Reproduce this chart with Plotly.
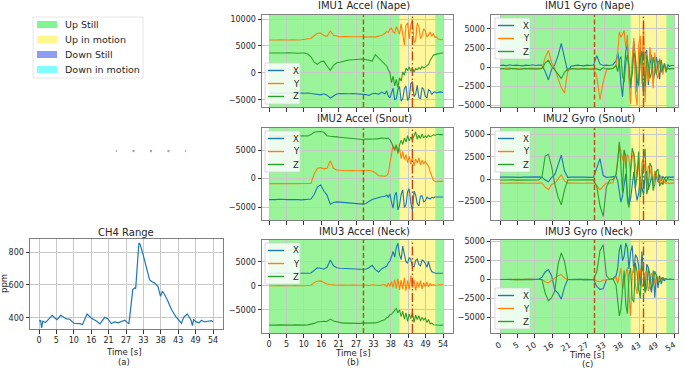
import plotly.graph_objects as go

W, H = 685, 371

# ---------------- data ----------------
CH4_T = [0, 0.5, 0.8, 1.2, 2.0, 3.0, 4.1, 5.0, 5.6, 6.7, 7.5, 8.5, 9.5, 10.2, 10.8, 12.6, 13.5, 14.9, 16.2, 17.9,
         18.9, 20.4, 21.4, 22.4, 23.5, 24.6, 25.6, 26.6, 27.9, 28.5, 29.1, 29.7, 30.0, 31.0, 31.4, 32.3, 33.3, 34.3,
         35.2, 35.9, 36.9, 37.7, 38.3, 39.0, 40.0, 41.1, 42.4, 43.7, 44.2, 44.9, 46.0, 46.8, 47.3, 47.6, 48.0, 48.8,
         49.7, 50.4, 51.4, 52.4, 53.5, 54.0]
CH4_PPM = [382, 384, 340, 380, 372, 395, 416, 398, 390, 416, 405, 394, 392, 380, 368, 366, 360, 424, 400, 380,
           364, 404, 394, 366, 376, 370, 376, 386, 364, 460, 572, 582, 578, 855, 845, 784, 703, 632,
           618, 612, 592, 531, 562, 541, 501, 451, 410, 380, 368, 404, 424, 400, 380, 354, 390,
           376, 370, 386, 376, 380, 384, 376]

T = [0, 1, 2, 3, 4, 5, 6, 7, 8, 9, 10, 11, 12, 13, 14, 15, 16, 17, 18, 19, 20, 21, 22, 23, 24, 25, 26, 27, 28, 29,
     30, 31, 32, 33, 34, 35,
     36, 36.5, 37, 37.5, 38, 38.5, 39, 39.5, 40, 40.5, 41, 41.5, 42, 42.5, 43, 43.5, 44, 44.5, 45, 45.5, 46, 46.5,
     47, 47.5, 48, 48.5, 49, 49.5, 50, 50.5, 51, 51.5, 52, 52.5, 53, 53.5, 54]

ACC1_X = [-3650, -3700, -3650, -3750, -3700, -3650, -3700, -3750, -3700, -3650, -3700, -3750, -3700, -3800, -3850,
          -3950, -4050, -3850, -4100, -4650, -4250, -3900, -3800, -3850, -3800, -3850, -3800, -3850, -3800, -3850,
          -4000, -4150, -3850, -3750, -3950, -3550] + \
         [-3900, -3300, -4200, -4600, -3500, -2800, -5000, -4700, -3100, -2500, -5200, -4800, -2900, -2400, -5100,
          -4600, -2000, -1600, -4400, -3900, -2300, -4500, -4800, -2700, -3000, -4300, -4600, -3100, -3300, -4000,
          -3600, -3500, -3700, -3600, -3500, -3550, -3600]
ACC1_Y = [6100, 6050, 6100, 6150, 6100, 6050, 6100, 6150, 6100, 6100, 6150, 6250, 6300, 6400, 6900, 7350, 7400,
          6950, 6800, 7800, 7000, 6800, 6700, 6750, 6700, 6650, 6700, 6700, 6750, 6700, 6650, 6700, 6700, 6650,
          6800, 7000] + \
         [7300, 7700, 7500, 8100, 8300, 7600, 7400, 8600, 7900, 7200, 9100, 6900, 5200, 8800, 9300, 6300, 8900,
          9900, 5600, 6000, 9200, 8600, 6400, 6900, 8200, 7800, 6700, 7000, 7600, 6800, 7300, 6600, 6700, 6300,
          6200, 6150, 6200]
ACC1_Z = [3700, 3750, 3700, 3700, 3650, 3700, 3750, 3700, 3700, 3650, 3700, 3700, 3500, 3000, 2000, 1600, 2100,
          2200, 1300, 500, 1400, 1900, 2000, 2200, 2300, 2400, 2500, 2500, 2550, 2600, 2500, 2300, 2200, 3400,
          2800, 2200] + \
         [1700, 1300, 600, 100, -1800, -600, -2400, -1200, -2700, -900, -1500, 200, -400, 900, 500, 1100, 300, 900,
          200, 800, 600, 1000, 700, 1200, 900, 1100, 1300, 1600, 2300, 2900, 3300, 3400, 3500, 3600, 3700, 3700,
          3700]

ACC2_X = [-3700, -3750, -3700, -3650, -3700, -3750, -3700, -3700, -3650, -3700, -3750, -3700, -3650, -3600, -2800,
          -1500, -1100, -2200, -2900, -4500, -4200, -4100, -4150, -4200, -4250, -4300, -4350, -4400, -4450, -4500,
          -4400, -4000, -3700, -3500, -3300, -3200] + \
         [-3100, -2900, -3300, -2700, -4200, -5200, -3000, -2400, -5500, -4700, -2800, -2000, -5100, -4600, -2300,
          -1800, -4300, -5700, -2200, -2900, -4400, -4800, -3100, -3000, -4100, -3900, -3300, -3400, -3600, -3300,
          -3400, -3250, -3250, -3200, -3250, -3200, -3250]
ACC2_Y = [-900, -880, -900, -850, -880, -900, -870, -880, -900, -860, -880, -900, -870, -850, 800, 1800, 1900, 1700,
          1800, 3100, 1800, 1500, 1400, 1400, 1350, 1400, 1400, 1350, 1400, 1400, 1350, 1400, 1300, 1000, 500, 400] + \
         [400, 500, 900, 2600, 4500, 5800, 5200, 6000, 4300, 5300, 3500, 4700, 3300, 4200, 2800, 3900, 2500, 3700,
          2200, 3400, 2700, 3600, 2400, 3200, 2600, 3000, 2500, 2200, 1200, 300, -300, -500, -600, -450, -550, -500,
          -500]
ACC2_Z = [7450, 7500, 7450, 7400, 7450, 7500, 7450, 7450, 7400, 7450, 7500, 7450, 7450, 7700, 8100, 8200, 8250,
          8100, 7500, 7400, 7300, 7300, 7250, 7200, 7150, 7100, 6950, 6900, 6900, 6850, 6900, 6900, 6850, 6950,
          7000, 7100] + \
         [7050, 7000, 7100, 6800, 6300, 5500, 4900, 5800, 4600, 5900, 6700, 6000, 7100, 6400, 7500, 6600, 7300,
          6800, 7700, 8200, 6900, 7600, 7000, 7800, 7100, 7500, 7200, 7600, 7300, 7500, 7650, 7600, 7700, 7750,
          7700, 7750, 7700]

ACC3_X = [2650, 2600, 2650, 2700, 2650, 2600, 2650, 2650, 2700, 2650, 2600, 2650, 2650, 2700, 3300, 3800, 3700,
          3500, 3900, 5400, 4200, 3800, 3700, 3700, 3650, 3600, 3600, 3550, 3500, 3450, 3500, 3800, 4300, 3400,
          2900, 3600] + \
         [3900, 4100, 4800, 5200, 6100, 7200, 6000, 8000, 8900, 6500, 5500, 8300, 6600, 5000, 4800, 5900, 5500,
          4100, 4000, 5300, 5600, 4500, 4200, 5400, 5200, 4700, 3900, 5100, 3700, 3000, 2800, 2650, 2600, 2650,
          2600, 2650, 2650]
ACC3_Y = [50, 0, 50, 100, 50, 0, 50, 50, 100, 50, 0, 50, 100, 150, 700, 1000, 1050, 700, 400, 300, 200, 150, 200,
          150, 100, 150, 200, 150, 100, 150, 200, 100, 250, 150, 100, 200] + \
         [300, -200, 600, -100, 900, -300, 1300, -500, 1500, -800, 1200, -600, 1700, -1000, 1100, -700, 2100, -400,
          1300, -900, 900, -300, 1100, -600, 700, -200, 800, -100, 500, 100, 300, 150, 250, 200, 250, 200, 250]
ACC3_Z = [-8150, -8200, -8150, -8100, -8150, -8200, -8150, -8150, -8100, -8150, -8200, -8150, -8100, -8000, -7800,
          -7500, -7400, -7350, -7400, -6900, -7300, -7500, -7700, -7750, -7750, -7800, -7750, -7750, -7800, -7750,
          -7750, -7700, -7750, -7700, -7500, -7300] + \
         [-7000, -6600, -6500, -6000, -5900, -5500, -5200, -4700, -5600, -5000, -6400, -5300, -6900, -5600, -7400,
          -5800, -6800, -5500, -7600, -6100, -7000, -6200, -7300, -6500, -7100, -6700, -7600, -7000, -7900, -7700,
          -8100, -8150, -8200, -8150, -8200, -8150, -8200]

GYR1_X = [200, 250, 150, 300, 200, 250, 200, 150, 250, 200, 300, 200, 250, 250, -600, -1700, -300, 300, 1500, 3100,
          1200, -600, 100, 200, 250, 200, 150, 250, 200, 250, 1500, 400, 200, 250, 200, 300] + \
         [800, 1900, 600, -2200, -3900, -800, 2100, 3000, -1200, -2800, 400, 3400, 1200, -3300, -1500, 2600, -600,
          -3800, 1800, 2200, -2400, 300, 1600, -1900, -700, 1300, 200, -1600, 900, -400, 500, -700, 300, 100, 200,
          150, 200]
GYR1_Y = [-200, -250, -200, -150, -250, -200, -300, -200, -250, -200, -150, -250, -200, -150, 1200, 2200, 600, -200,
          -1500, -2700, -3400, -500, -250, -250, -200, -250, -300, -250, -200, -300, -1200, -4300, -2000, -400, -250,
          -200] + \
         [300, 1800, 4600, 3900, 4300, 4800, 2500, 4200, -1500, -4900, 1200, 3800, -3400, -5000, 2900, 4100, -2200,
          6100, -4600, 1500, -1800, 2600, 700, -2800, 1900, -900, -1500, 1100, 300, -1000, 500, -600, -100, -300,
          -200, -250, -250]
GYR1_Z = [-250, -200, -300, -250, -200, -250, -300, -250, -200, -250, -250, -300, -250, -200, 500, 900, 100, -400,
          -900, -1500, -700, -250, -250, -200, -300, -250, -200, -250, -300, -250, -250, -400, -100, -250, -250,
          -200] + \
         [200, -600, 900, 1400, -1200, -2000, 600, 1600, 300, -2300, -900, 1900, 1100, -1700, -2400, 800, 2100, -600,
          -2600, 1500, 400, -1500, -700, 1300, 200, -1000, 600, 900, -700, -200, 400, -500, -100, -250, -200, -250,
          -200]

GYR2_X = [220, 250, 200, 230, 220, 250, 200, 220, 240, 210, 230, 220, 250, 220, -100, -300, 200, 500, 1500, 2700,
          900, 200, 220, 250, 200, 230, 220, 250, 200, 220, 1200, 2300, 400, 200, 220, 250] + \
         [300, -200, -1400, -2600, -1900, -400, 600, -1800, -2900, -2200, -500, 800, -1200, -2400, -1600, 300, -900,
          -1800, 500, 900, -1200, -600, 400, -700, 800, 200, -300, 500, -200, 300, 100, 250, 200, 250, 200, 250, 200]
GYR2_Y = [-450, -420, -470, -450, -430, -460, -450, -440, -470, -450, -430, -460, -450, -450, -900, -1200, -600,
          -450, 0, 500, -200, -450, -440, -460, -450, -430, -460, -450, -440, -460, -700, -1200, -800, -450, -450,
          -400] + \
         [600, 2400, 3800, 3100, 2100, 3300, 1200, 2800, 2300, 600, 2500, 3000, 1400, 200, 2200, -1200, 1800, 2400,
          900, -400, 1500, 1100, 300, -800, 900, 600, -200, -500, 300, -600, -300, -500, -400, -500, -450, -450,
          -450]
GYR2_Z = [-100, -80, -120, -100, -90, -110, -100, -80, -120, -100, -90, -110, -100, 200, 2600, 2800, 1400, -600,
          -2000, -2900, -1200, -100, -90, -110, -100, -80, -120, -100, -90, -110, -800, -3000, -4200, -900, -100,
          -50] + \
         [500, 2000, 4200, 1500, -1500, 3300, 2600, -2400, -3200, 1200, 3500, 2700, -1000, 400, 3100, -2000, -600,
          2300, 3400, -1700, -900, 1800, 1400, -1300, -600, 900, 1100, -800, -400, -600, 200, -300, 100, -100, -50,
          -100, -100]

GYR3_X = [0, 30, -20, 10, 0, -30, 20, 0, 10, -10, 30, 0, 20, 300, 1000, 1300, 500, -1400, -1800, -2600, -1000, 0,
          20, -10, 0, 30, -20, 10, 0, -10, -900, -1300, -1200, 0, 0, 100] + \
         [500, 1500, 3900, 4600, 2500, 3100, 4800, 4200, 1400, 3600, 4500, 900, 3300, 2900, 1800, -800, 3700, 1100,
          -1500, 2000, 1600, -900, -1700, 1200, -2400, 700, -1100, 500, -600, 300, -200, 100, 0, 50, 0, 50, 0]
GYR3_Y = [0, 20, -10, 0, 10, -20, 0, 10, 0, -10, 20, 0, -10, 0, -300, -450, -100, 200, 500, 650, 200, 0, 10, -10,
          0, 20, 0, -10, 10, 0, -200, -300, -100, 0, 10, 0] + \
         [300, -500, 800, 1500, -1200, -300, 1000, 1600, -2000, -4800, 700, 1700, -800, -1900, 1200, 1400, -1000,
          -600, 900, 1100, -1500, -700, 800, 600, -400, -300, 400, -200, 200, -100, 100, 0, 0, 0, 0, 0, 0]
GYR3_Z = [0, -20, 10, 0, -10, 20, 0, -10, 0, 10, -20, 0, 10, 0, -1800, -2800, -2400, -1500, 2000, 3500, 2400, 0,
          -10, 10, 0, -20, 0, 10, -10, 0, 1000, 3800, 4600, 500, 0, 100] + \
         [-800, -2500, -4800, -3900, -1500, 1200, -3300, -4500, 600, 1500, -2600, -3000, 2200, 1000, -1300, -2500,
          1900, 900, -1800, -1000, 1600, 700, -1200, -600, 1100, 500, -400, -300, 200, -100, 100, 0, 0, 0, 0, 0, 0]

X_TICK_VALS = [0, 5.4, 10.8, 16.2, 21.6, 27, 32.4, 37.8, 43.2, 48.6, 54]
X_TICK_TEXT = ["0", "5", "10", "16", "21", "27", "33", "38", "43", "49", "54"]

UP_STILL = (0, 54)
UP_MOTION = (40.5, 51.6)
EVENT_DASH = 29.3
EVENT_DASHDOT = 44.5

REGION_LABELS = ["Up Still", "Up in motion", "Down Still", "Down in motion"]
REGION_SWATCH = ["#80f594", "#fff68c", "#8f9ef5", "#80fcfc"]
SERIES_NAMES = ["X", "Y", "Z"]
SERIES_COLORS = ["#1f77b4", "#ff7f0e", "#2ca02c"]
DOT_IDX = [0, 1, 2, 3, 4]

# ---------------- style ----------------
FONT = "DejaVu Sans"
TXT = "#262626"
GRID = "#c8c8c8"
FRAME = "#808080"
GREEN_BG = "#9af59a"
YELLOW_BG = "#fff79c"
EVENT_COLOR = "#c0461e"


def px_x(a):
    return a / W


def px_y(b):
    return 1 - b / H


fig = go.Figure()
layout = dict(width=W, height=H, margin=dict(l=0, r=0, t=0, b=0, autoexpand=False),
              paper_bgcolor="white", plot_bgcolor="white", showlegend=False,
              font=dict(family=FONT, size=8, color=TXT))
shapes = []
annotations = []


def minus(v):
    return str(v).replace("-", "\u2212")


def add_axes(idx, xpx, ypx, xr, yr, ytv, show_xlabels, tickangle=0):
    xa = "xaxis" if idx == 1 else f"xaxis{idx}"
    ya = "yaxis" if idx == 1 else f"yaxis{idx}"
    xn = "x" if idx == 1 else f"x{idx}"
    yn = "y" if idx == 1 else f"y{idx}"
    common = dict(ticks="outside", ticklen=3.5, tickwidth=0.8, tickcolor="#333333", showgrid=True,
                  gridcolor=GRID, gridwidth=0.8, showline=True, linecolor=FRAME, linewidth=1, mirror=True,
                  zeroline=False, automargin=False, tickfont=dict(size=8, family=FONT, color=TXT))
    layout[xa] = dict(domain=[px_x(xpx[0]), px_x(xpx[1])], range=xr, anchor=yn, tickmode="array",
                      tickvals=X_TICK_VALS, ticktext=X_TICK_TEXT, showticklabels=show_xlabels,
                      tickangle=tickangle, **common)
    layout[ya] = dict(domain=[px_y(ypx[1]), px_y(ypx[0])], range=yr, anchor=xn, tickmode="array",
                      tickvals=ytv, ticktext=[minus(v) for v in ytv], **common)
    return xn, yn


def ann(text, x, y, size, xanchor="center", yanchor="middle", angle=0):
    annotations.append(dict(text=text, x=px_x(x), y=px_y(y), xref="paper", yref="paper", showarrow=False,
                            xanchor=xanchor, yanchor=yanchor, textangle=angle,
                            font=dict(family=FONT, size=size, color=TXT)))


# CH4 panel
xn, yn = add_axes(1, (30, 223), (239, 329), [-2.8, 57.1], [333, 879], [400, 600, 800], True)
fig.add_trace(go.Scatter(x=CH4_T, y=CH4_PPM, mode="lines", line=dict(color="#1f77b4", width=1.2),
                         xaxis=xn, yaxis=yn))
ann("CH4 Range", 126, 232, 10)
ann("ppm", 4, 284, 8.5, angle=-90)
ann("Time [s]", 124, 352, 8.5)
ann("(a)", 124, 361.5, 8.5)

ACC_X = (262, 453)
GYR_X = (491, 678)
ROWS = [(15, 107), (128, 220), (240, 333)]

panels = [
    (2, ACC_X, ROWS[0], [-2.2, 57.1], [-6300, 10740], [-5000, 0, 5000, 10000], (ACC1_X, ACC1_Y, ACC1_Z),
     "IMU1 Accel (Nape)", 364, 6, (265, 63)),
    (3, ACC_X, ROWS[1], [-2.2, 57.1], [-7280, 8860], [-5000, 0, 5000], (ACC2_X, ACC2_Y, ACC2_Z),
     "IMU2 Accel (Snout)", 364, 118, (265, 131)),
    (4, ACC_X, ROWS[2], [-2.2, 57.1], [-9800, 9580], [-5000, 0, 5000], (ACC3_X, ACC3_Y, ACC3_Z),
     "IMU3 Accel (Neck)", 364, 231, (265, 243)),
    (5, GYR_X, ROWS[0], [-2.8, 55.2], [-5260, 6840], [-5000, -2500, 0, 2500, 5000], (GYR1_X, GYR1_Y, GYR1_Z),
     "IMU1 Gyro (Nape)", 589, 6, (495, 18)),
    (6, GYR_X, ROWS[1], [-2.8, 55.2], [-4600, 5750], [-2500, 0, 2500, 5000], (GYR2_X, GYR2_Y, GYR2_Z),
     "IMU2 Gyro (Snout)", 589, 118, (495, 131)),
    (7, GYR_X, ROWS[2], [-2.8, 55.2], [-7070, 5220], [-5000, -2500, 0, 2500, 5000], (GYR3_X, GYR3_Y, GYR3_Z),
     "IMU3 Gyro (Neck)", 589, 231, (495, 288)),
]

for idx, xpx, ypx, xr, yr, ytv, series, title, tx, ty, leg in panels:
    bottom = idx in (4, 7)
    xn, yn = add_axes(idx, xpx, ypx, xr, yr, ytv, bottom, tickangle=-30 if idx == 7 else 0)
    shapes.append(dict(type="rect", xref=xn, yref=f"{yn} domain", x0=UP_STILL[0], x1=UP_STILL[1], y0=0, y1=1,
                       fillcolor=GREEN_BG, line=dict(width=0), layer="below"))
    shapes.append(dict(type="rect", xref=xn, yref=f"{yn} domain", x0=UP_MOTION[0], x1=UP_MOTION[1], y0=0, y1=1,
                       fillcolor=YELLOW_BG, line=dict(width=0), layer="below"))
    for s, name, col in zip(series, SERIES_NAMES, SERIES_COLORS):
        fig.add_trace(go.Scatter(x=T, y=s, mode="lines", name=name, line=dict(color=col, width=1.1),
                                 xaxis=xn, yaxis=yn))
    shapes.append(dict(type="line", xref=xn, yref=f"{yn} domain", x0=EVENT_DASH, x1=EVENT_DASH, y0=0, y1=1,
                       line=dict(color=EVENT_COLOR, width=1.4, dash="5px,2.5px"), layer="above"))
    shapes.append(dict(type="line", xref=xn, yref=f"{yn} domain", x0=EVENT_DASHDOT, x1=EVENT_DASHDOT, y0=0, y1=1,
                       line=dict(color=EVENT_COLOR, width=1.4, dash="9px,2.5px,1.5px,2.5px"), layer="above"))
    ann(title, tx, ty, 10)
    # mini legend
    bx, by = leg
    shapes.append(dict(type="rect", xref="paper", yref="paper", x0=px_x(bx), x1=px_x(bx + 35),
                       y0=px_y(by + 41), y1=px_y(by), fillcolor="rgba(255,255,255,0.82)",
                       line=dict(color="#d0d0d0", width=0.8), layer="above"))
    for k, (name, col) in enumerate(zip(SERIES_NAMES, SERIES_COLORS)):
        yy = by + 7.5 + 13 * k
        shapes.append(dict(type="line", xref="paper", yref="paper", x0=px_x(bx + 3), x1=px_x(bx + 19),
                           y0=px_y(yy), y1=px_y(yy), line=dict(color=col, width=1.4), layer="above"))
        ann(name, bx + 26, yy, 8.5, xanchor="left")

ann("Time [s]", 353, 352.5, 8.5)
ann("(b)", 353, 362, 8.5)
ann("Time [s]", 587, 355, 8.5)
ann("(c)", 587, 364, 8.5)

# region legend
shapes.append(dict(type="rect", xref="paper", yref="paper", x0=px_x(33), x1=px_x(143), y0=px_y(78), y1=px_y(17),
                   fillcolor="white", line=dict(color="#e0e0e0", width=0.8), layer="above"))
for k, (lab, col) in enumerate(zip(REGION_LABELS, REGION_SWATCH)):
    cy = 24.5 + 15 * k
    shapes.append(dict(type="rect", xref="paper", yref="paper", x0=px_x(37), x1=px_x(57), y0=px_y(cy + 3.5),
                       y1=px_y(cy - 3.5), fillcolor=col, line=dict(width=0), layer="above"))
    ann(lab, 63, cy, 9.5, xanchor="left")

# stray dots of an empty axis in the middle-left area
layout["xaxis8"] = dict(domain=[px_x(116), px_x(186)], range=[0, 4], visible=False, anchor="y8")
layout["yaxis8"] = dict(domain=[px_y(160), px_y(142)], range=[-1, 1], visible=False, anchor="x8")
fig.add_trace(go.Scatter(x=DOT_IDX, y=[0 for _ in DOT_IDX], mode="markers",
                         marker=dict(size=2.5, color="#a8a8a8"), xaxis="x8", yaxis="y8", hoverinfo="skip"))

layout["shapes"] = shapes
layout["annotations"] = annotations
fig.update_layout(**layout)
fig.write_html("out.html", config={"displayModeBar": False},
               post_script="document.body.style.margin='0';document.body.style.padding='0';"
                           "document.body.style.overflow='hidden';")
